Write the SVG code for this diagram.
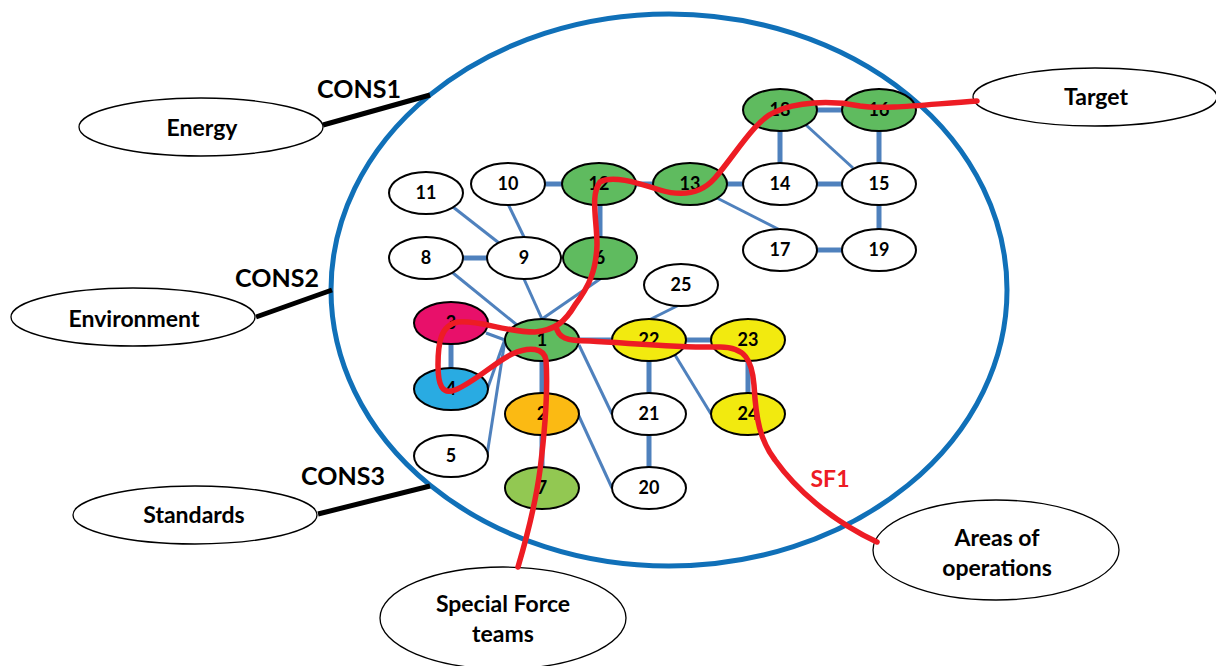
<svg xmlns="http://www.w3.org/2000/svg" width="1216" height="666" viewBox="0 0 1216 666">
<defs>
<style>
.n{stroke:#000;stroke-width:2}
.w{fill:#fff}
.g{fill:#5FBB5F}
.lg{fill:#92C852}
.mg{fill:#E8106A}
.bl{fill:#29ABE2}
.or{fill:#FBBA13}
.ye{fill:#F2EA0F}
.nt{font-family:Lato,"Liberation Sans",sans-serif;font-weight:bold;font-size:18px;text-anchor:middle;fill:#000}
.bt{font-family:Lato,"Liberation Sans",sans-serif;font-weight:bold;font-size:23px;text-anchor:middle;fill:#000}
.ct{font-family:Lato,"Liberation Sans",sans-serif;font-weight:bold;font-size:25px;text-anchor:middle;fill:#000}
.oe{fill:#fff;stroke:#000;stroke-width:1.3}
.tk{stroke:#4F81BD;stroke-width:5;fill:none}
.tn{stroke:#4F81BD;stroke-width:3;fill:none}
.bk{stroke:#000;stroke-width:5;fill:none}
.rd{stroke:#ED1C24;stroke-width:5.5;fill:none;stroke-linejoin:round;stroke-linecap:round}
</style>
</defs>
<rect width="1216" height="666" fill="#fff"/>
<ellipse id="boundary" cx="669" cy="290" rx="338" ry="276" fill="none" stroke="#1070B8" stroke-width="5"/>
<g id="connectors">
<line class="bk" x1="323" y1="125" x2="430" y2="95"/>
<line class="bk" x1="256" y1="317" x2="332" y2="290"/>
<line class="bk" x1="318" y1="514" x2="430" y2="486"/>
<line class="tk" x1="545" y1="184" x2="562" y2="184"/>
<line class="tk" x1="636" y1="184" x2="653" y2="184"/>
<line class="tk" x1="727" y1="184" x2="743" y2="184"/>
<line class="tk" x1="817" y1="184" x2="842" y2="184"/>
<line class="tk" x1="817" y1="110" x2="842" y2="110"/>
<line class="tk" x1="780" y1="131" x2="780" y2="163"/>
<line class="tk" x1="879" y1="131" x2="879" y2="163"/>
<line class="tn" x1="806" y1="125" x2="853" y2="168"/>
<line class="tk" x1="879" y1="205" x2="879" y2="229"/>
<line class="tk" x1="817" y1="250" x2="842" y2="250"/>
<line class="tn" x1="717" y1="198" x2="780" y2="230"/>
<line class="tn" x1="453" y1="207" x2="499" y2="243"/>
<line class="tn" x1="508" y1="204" x2="524" y2="237"/>
<line class="tk" x1="463" y1="258" x2="487" y2="258"/>
<line class="tk" x1="600" y1="205" x2="600" y2="237"/>
<line class="tn" x1="453" y1="273" x2="517" y2="325"/>
<line class="tn" x1="524" y1="279" x2="542" y2="319"/>
<line class="tn" x1="600" y1="279" x2="542" y2="319"/>
<line class="tn" x1="681" y1="304" x2="649" y2="320"/>
<line class="tk" x1="579" y1="340" x2="612" y2="340"/>
<line class="tk" x1="686" y1="340" x2="711" y2="340"/>
<line class="tk" x1="451" y1="344" x2="451" y2="368"/>
<line class="tk" x1="748" y1="361" x2="748" y2="393"/>
<line class="tk" x1="649" y1="361" x2="649" y2="393"/>
<line class="tk" x1="649" y1="435" x2="649" y2="467"/>
<line class="tk" x1="542" y1="361" x2="542" y2="393"/>
<line class="tk" x1="542" y1="435" x2="542" y2="467"/>
<line class="tn" x1="675" y1="355" x2="711" y2="414"/>
<line class="tn" x1="579" y1="345" x2="612" y2="414"/>
<line class="tn" x1="578" y1="414" x2="612" y2="488"/>
<line class="tn" x1="486" y1="333" x2="505" y2="340"/>
<line class="tn" x1="487" y1="390" x2="505" y2="339"/>
<line class="tn" x1="487" y1="455" x2="505" y2="340"/>
</g>
<g id="energy"><ellipse class="oe" cx="201" cy="127" rx="122" ry="29"/><text class="bt" x="202" y="136">Energy</text></g>
<g id="environment"><ellipse class="oe" cx="133" cy="317" rx="122" ry="29"/><text class="bt" x="134" y="327">Environment</text></g>
<g id="standards"><ellipse class="oe" cx="195" cy="515" rx="122" ry="29"/><text class="bt" x="194" y="523">Standards</text></g>
<g id="target"><ellipse class="oe" cx="1095" cy="97" rx="122" ry="29"/><text class="bt" x="1096" y="105">Target</text></g>
<g id="sfteams"><ellipse class="oe" cx="503" cy="618" rx="123" ry="51"/><text class="bt" x="503" y="612">Special Force</text><text class="bt" x="503" y="642">teams</text></g>
<g id="areas"><ellipse class="oe" cx="996" cy="550" rx="123" ry="50"/><text class="bt" x="997" y="546">Areas of</text><text class="bt" x="997" y="576">operations</text></g>
<g id="cons-labels">
<text class="ct" x="359" y="98">CONS1</text>
<text class="ct" x="277" y="287">CONS2</text>
<text class="ct" x="343" y="485">CONS3</text>
</g>
<g id="n1"><ellipse class="n g" cx="542" cy="340" rx="37" ry="21"/><text class="nt" x="542" y="346">1</text></g>
<g id="n2"><ellipse class="n or" cx="542" cy="414" rx="37" ry="21"/><text class="nt" x="542" y="420">2</text></g>
<g id="n3"><ellipse class="n mg" cx="451" cy="323" rx="37" ry="21"/><text class="nt" x="451" y="329">3</text></g>
<g id="n4"><ellipse class="n bl" cx="451" cy="389" rx="37" ry="21"/><text class="nt" x="451" y="395">4</text></g>
<g id="n5"><ellipse class="n w" cx="451" cy="456" rx="37" ry="21"/><text class="nt" x="451" y="462">5</text></g>
<g id="n6"><ellipse class="n g" cx="600" cy="258" rx="37" ry="21"/><text class="nt" x="600" y="264">6</text></g>
<g id="n7"><ellipse class="n lg" cx="542" cy="488" rx="37" ry="21"/><text class="nt" x="542" y="494">7</text></g>
<g id="n8"><ellipse class="n w" cx="426" cy="258" rx="37" ry="21"/><text class="nt" x="426" y="264">8</text></g>
<g id="n9"><ellipse class="n w" cx="524" cy="258" rx="37" ry="21"/><text class="nt" x="524" y="264">9</text></g>
<g id="n10"><ellipse class="n w" cx="508" cy="184" rx="37" ry="21"/><text class="nt" x="508" y="190">10</text></g>
<g id="n11"><ellipse class="n w" cx="426" cy="193" rx="37" ry="21"/><text class="nt" x="426" y="199">11</text></g>
<g id="n12"><ellipse class="n g" cx="599" cy="184" rx="37" ry="21"/><text class="nt" x="599" y="190">12</text></g>
<g id="n13"><ellipse class="n g" cx="690" cy="184" rx="37" ry="21"/><text class="nt" x="690" y="190">13</text></g>
<g id="n14"><ellipse class="n w" cx="780" cy="184" rx="37" ry="21"/><text class="nt" x="780" y="190">14</text></g>
<g id="n15"><ellipse class="n w" cx="879" cy="184" rx="37" ry="21"/><text class="nt" x="879" y="190">15</text></g>
<g id="n16"><ellipse class="n g" cx="879" cy="110" rx="37" ry="21"/><text class="nt" x="879" y="116">16</text></g>
<g id="n17"><ellipse class="n w" cx="780" cy="250" rx="37" ry="21"/><text class="nt" x="780" y="256">17</text></g>
<g id="n18"><ellipse class="n g" cx="780" cy="110" rx="37" ry="21"/><text class="nt" x="780" y="116">18</text></g>
<g id="n19"><ellipse class="n w" cx="879" cy="250" rx="37" ry="21"/><text class="nt" x="879" y="256">19</text></g>
<g id="n20"><ellipse class="n w" cx="649" cy="488" rx="37" ry="21"/><text class="nt" x="649" y="494">20</text></g>
<g id="n21"><ellipse class="n w" cx="649" cy="414" rx="37" ry="21"/><text class="nt" x="649" y="420">21</text></g>
<g id="n22"><ellipse class="n ye" cx="649" cy="340" rx="37" ry="21"/><text class="nt" x="649" y="346">22</text></g>
<g id="n23"><ellipse class="n ye" cx="748" cy="340" rx="37" ry="21"/><text class="nt" x="748" y="346">23</text></g>
<g id="n24"><ellipse class="n ye" cx="748" cy="414" rx="37" ry="21"/><text class="nt" x="748" y="420">24</text></g>
<g id="n25"><ellipse class="n w" cx="681" cy="285" rx="37" ry="21"/><text class="nt" x="681" y="291">25</text></g>
<g id="sf1">
<path class="rd" d="M518,567 C526,540 536,500 540,470 C545,430 548,390 546,360 C544,348 530,346 512,354 C495,362 475,382 455,390 C442,395 438,385 438,365 C438,345 440,325 458,322 C480,320 505,332 535,332 C555,330 565,322 575,305 C590,285 596,270 597,245 C597,220 590,195 600,182 C612,175 635,182 660,190 C680,196 700,195 715,178 C735,155 755,120 775,112 C795,102 830,100 860,106 C885,110 930,104 977,101"/>
<path class="rd" d="M556,326 C558,338 566,341 590,341 C630,343 680,348 720,347 C745,347 752,360 754,385 C756,420 760,440 775,460 C795,488 830,520 877,542"/>
<text x="830" y="487" font-family="Lato,'Liberation Sans',sans-serif" font-weight="bold" font-size="23" text-anchor="middle" fill="#ED1C24">SF1</text>
</g>
</svg>
